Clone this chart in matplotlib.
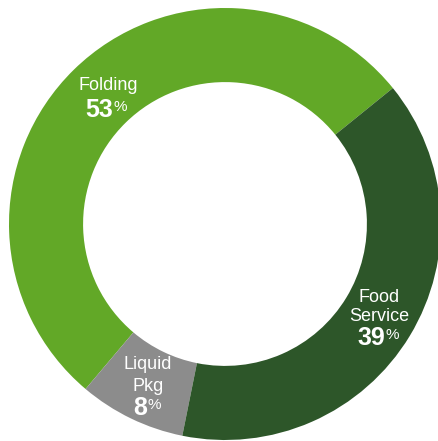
import matplotlib
matplotlib.use("Agg")
import matplotlib.pyplot as plt

# data
segments = ["Folding", "Liquid\nPkg", "Food\nService"]
shares = [53, 8, 39]
colors = ["#62A827", "#8C8C8C", "#2D5629"]

plt.rcParams['font.family'] = ['Liberation Sans', 'DejaVu Sans']

fig = plt.figure(figsize=(4.39, 4.41), dpi=100)
ax = fig.add_axes([0, 0, 1, 1])

R = 216.0  # outer radius in px
cx, cy = 225.0, 224.0  # centre in px (from top-left)

ax.pie(shares, colors=colors, startangle=39, counterclock=True,
       radius=1.0, wedgeprops=dict(width=0.343, linewidth=0))

ax.set_xlim(-cx / R, (439 - cx) / R)
ax.set_ylim(-(441 - cy) / R, cy / R)
ax.set_aspect('equal')
ax.axis('off')


def px(x, y):
    return (x - cx) / R, (cy - y) / R


# label positions (px): name lines centre x, baselines; number right edge, baseline
label_pos = [
    (108, [90], 113, 117),
    (148, [369, 391], 147, 415),
    (379, [302, 321], 385, 345),
]

for name, val, (lx, lines, nx, ny) in zip(segments, shares, label_pos):
    for txt, by in zip(name.split("\n"), lines):
        ax.text(*px(lx, by), txt, color='white', fontsize=13,
                ha='center', va='baseline')
    ax.text(*px(nx, ny), str(val), color='white', fontsize=18,
            fontweight='bold', ha='right', va='baseline')
    ax.text(*px(nx + 0.5, ny - 6), "%", color='white', fontsize=11,
            ha='left', va='baseline')

fig.savefig("out.png", dpi=100)
